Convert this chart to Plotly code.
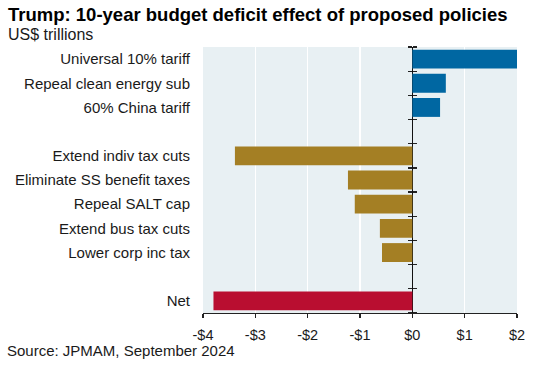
import plotly.graph_objects as go

categories = ["Universal 10% tariff", "Repeal clean energy sub", "60% China tariff", " ",
              "Extend indiv tax cuts", "Eliminate SS benefit taxes", "Repeal SALT cap",
              "Extend bus tax cuts", "Lower corp inc tax", "  ", "Net"]
values = [2.0, 0.64, 0.53, None, -3.39, -1.23, -1.10, -0.62, -0.58, None, -3.80]
groups = ["offset", "offset", "offset", None, "cost", "cost", "cost", "cost", "cost", None, "net"]
x_ticks = [-4, -3, -2, -1, 0, 1, 2]
x_labels = ["-$4", "-$3", "-$2", "-$1", "$0", "$1", "$2"]

group_colors = {"offset": "#0067A2", "cost": "#A47F24", "net": "#B90E30", None: "rgba(0,0,0,0)"}
colors = [group_colors[g] for g in groups]

FONT = "Arial, 'Liberation Sans', sans-serif"

W, H = 536, 369
ML, MR, MT, MB = 203, 19, 47, 56
PW = W - ML - MR

fig = go.Figure()
fig.add_trace(go.Bar(x=values, y=categories, orientation="h", marker=dict(color=colors, line=dict(width=0)),
                     showlegend=False, hoverinfo="x+y"))
# invisible traces for the zero-axis tick overlays
fig.add_trace(go.Scatter(x=[None], y=[None], yaxis="y2", showlegend=False, hoverinfo="skip"))
fig.add_trace(go.Scatter(x=[None], y=[None], yaxis="y3", showlegend=False, hoverinfo="skip"))

n = len(categories)
zero_pos = (0 - x_ticks[0]) / (x_ticks[-1] - x_ticks[0])

fig.update_layout(
    width=W, height=H,
    margin=dict(l=ML, r=MR, t=MT, b=MB, autoexpand=False),
    paper_bgcolor="white",
    plot_bgcolor="#E8F0F3",
    bargap=0.22,
    showlegend=False,
    font=dict(family=FONT, size=15, color="#1a1a1a"),
    xaxis=dict(range=[x_ticks[0], x_ticks[-1]], tickvals=x_ticks, ticktext=x_labels, automargin=False,
               showgrid=True, gridcolor="white", gridwidth=1.2,
               zeroline=True, zerolinecolor="#111111", zerolinewidth=1.3,
               showline=True, linecolor="#222222", linewidth=1.2,
               ticks="outside", ticklen=4, tickcolor="#222222", tickwidth=1.2,
               ticklabelstandoff=4,
               tickfont=dict(size=14.5, color="#1a1a1a"), fixedrange=True),
    yaxis=dict(categoryorder="array", categoryarray=categories, autorange=False, automargin=False,
               range=[n - 0.5, -0.5], showgrid=False, zeroline=False, showline=False,
               ticks="", ticklabelstandoff=12, tickfont=dict(size=15, color="#1a1a1a")),
    yaxis2=dict(overlaying="y", anchor="free", position=zero_pos, range=[n - 0.5, -0.5], automargin=False,
                tick0=-0.5, dtick=1, ticks="outside", ticklen=4, tickwidth=1.2, tickcolor="#222222",
                showticklabels=False, showgrid=False, zeroline=False, showline=False),
    yaxis3=dict(overlaying="y", anchor="free", position=zero_pos, range=[n - 0.5, -0.5], side="right",
                automargin=False,
                tick0=-0.5, dtick=1, ticks="outside", ticklen=4, tickwidth=1.2, tickcolor="#222222",
                showticklabels=False, showgrid=False, zeroline=False, showline=False),
    annotations=[
        dict(text="<b>Trump: 10-year budget deficit effect of proposed policies</b>", xref="paper", yref="paper",
             x=-ML / PW, y=1, xanchor="left", yanchor="bottom", yshift=20, xshift=6, showarrow=False,
             font=dict(size=18.5, color="#000000", family=FONT)),
        dict(text="US$ trillions", xref="paper", yref="paper",
             x=-ML / PW, y=1, xanchor="left", yanchor="bottom", yshift=2, xshift=6, showarrow=False,
             font=dict(size=16, color="#1a1a1a", family=FONT)),
        dict(text="Source: JPMAM, September 2024", xref="paper", yref="paper",
             x=-ML / PW, y=0, xanchor="left", yanchor="top", yshift=-27, xshift=5, showarrow=False,
             font=dict(size=15, color="#1a1a1a", family=FONT)),
    ],
)

fig.write_html("out.html", config={"displayModeBar": False, "staticPlot": True},
               post_script="document.body.style.margin='0';")
